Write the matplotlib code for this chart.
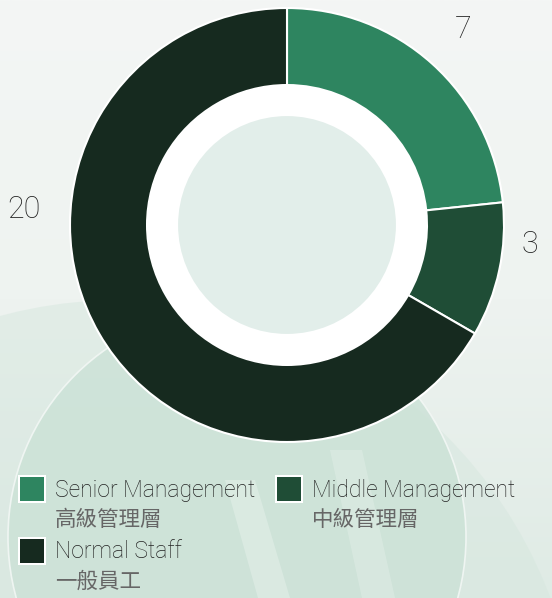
import numpy as np
import matplotlib.pyplot as plt
from matplotlib.patches import Circle, Polygon, Rectangle
from matplotlib.colors import LinearSegmentedColormap

# data
categories = ['Senior Management', 'Middle Management', 'Normal Staff']
categories_zh = ['高級管理層', '中級管理層', '一般員工']
values = [7, 3, 20]
colors = ['#2e8560', '#1f4d36', '#162a1f']

plt.rcParams['font.family'] = ['Roboto', 'Noto Sans CJK TC', 'DejaVu Sans']

W, H = 552, 598
fig = plt.figure(figsize=(W / 100, H / 100), dpi=100)

# background in pixel coordinates (y down)
bg = fig.add_axes([0, 0, 1, 1])
bg.set_xlim(0, W)
bg.set_ylim(H, 0)
bg.axis('off')
grad = np.linspace(0, 1, 256)[:, None]
cmap = LinearSegmentedColormap.from_list('bg', ['#f4f6f5', '#eef3f0', '#dfebe5'])
bg.imshow(grad, extent=[0, W, H, 0], cmap=cmap, aspect='auto', zorder=0)
# soft decorative shapes
bg.add_patch(Circle((120, 760), 460, facecolor='#d4e6dd', edgecolor='none',
                    alpha=0.45, zorder=1))
bg.add_patch(Circle((237, 537), 229, facecolor='#cce2d7', edgecolor='#f4f8f6',
                    lw=1.2, alpha=0.85, zorder=1))
bg.add_patch(Polygon([(225, 480), (255, 480), (290, 598), (258, 598)],
                     closed=True, facecolor='white', alpha=0.25, lw=0, zorder=1))
bg.add_patch(Polygon([(330, 450), (362, 450), (395, 598), (362, 598)],
                     closed=True, facecolor='white', alpha=0.2, lw=0, zorder=1))

# donut
cx, cy, R = 287, 225, 217
ax = fig.add_axes([(cx - R) / W, (H - cy - R) / H, 2 * R / W, 2 * R / H])
wedges, _ = ax.pie(values, colors=colors, startangle=90, counterclock=False,
                   radius=1, wedgeprops=dict(width=0.355, edgecolor='white', linewidth=1.5))
ax.add_patch(Circle((0, 0), 0.645, facecolor='white', lw=0))
ax.add_patch(Circle((0, 0), 0.502, facecolor='#e2eeea', lw=0))
ax.set_xlim(-1, 1)
ax.set_ylim(-1, 1)
ax.axis('off')

label_pos = [(0.81, 0.90), (1.12, -0.09), (-1.21, 0.07)]
for v, (x, y) in zip(values, label_pos):
    ax.text(x, y, str(v), ha='center', va='center', fontsize=22,
            fontweight='light', color='#222222', clip_on=False)

# legend
legend_items = [(20, 489), (277, 489), (20, 551)]
for (lx, ly), name, zh, c in zip(legend_items, categories, categories_zh, colors):
    bg.add_patch(Rectangle((lx - 2, ly - 14), 28, 28, facecolor='white', lw=0, zorder=3))
    bg.add_patch(Rectangle((lx, ly - 12), 24, 24, facecolor=c, lw=0, zorder=4))
    bg.text(lx + 35, ly + 1, name, ha='left', va='center', fontsize=16.5,
            fontweight='light', color='#222222', zorder=5)
    bg.text(lx + 35, ly + 31, zh, ha='left', va='center', fontsize=15.5,
            fontweight='light', color='#666666', zorder=5)

fig.savefig('out.png', dpi=100)
